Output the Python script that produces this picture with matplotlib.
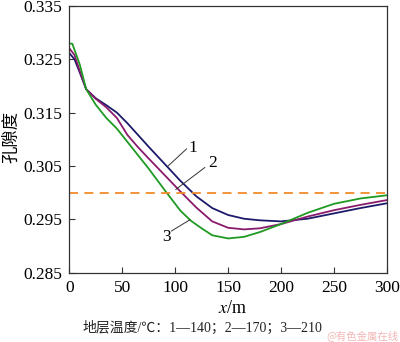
import matplotlib.pyplot as plt

# --- Data ---
x1 = [0, 5, 10, 16, 25, 35, 45, 55, 65, 75, 90, 105, 120, 135, 150, 165, 180, 200, 225, 250, 275, 300]
phi1 = [0.3262, 0.3250, 0.3225, 0.3194, 0.3177, 0.3164, 0.3150, 0.3130, 0.3108, 0.3086, 0.3054,
        0.3022, 0.2993, 0.2971, 0.2958, 0.2951, 0.2948, 0.2946, 0.2951, 0.2961, 0.2971, 0.2980]

x2 = [0, 5, 10, 16, 25, 35, 45, 55, 65, 75, 90, 105, 120, 135, 150, 165, 180, 200, 225, 250, 275, 300]
phi2 = [0.3271, 0.3258, 0.3228, 0.3194, 0.3176, 0.3160, 0.3140, 0.3108, 0.3085, 0.3064, 0.3033,
        0.3002, 0.2972, 0.2946, 0.2934, 0.2931, 0.2933, 0.2941, 0.2955, 0.2967, 0.2977, 0.2986]

x3 = [0, 3, 10, 16, 25, 35, 45, 55, 65, 75, 90, 105, 115, 125, 135, 150, 165, 180, 200, 225, 250, 275, 300]
phi3 = [0.3280, 0.3279, 0.3240, 0.3194, 0.3165, 0.3140, 0.3120, 0.3095, 0.3070, 0.3045, 0.3005,
        0.2966, 0.2947, 0.2933, 0.2920, 0.2914, 0.2917, 0.2926, 0.2941, 0.2962, 0.2979, 0.2989, 0.2995]

ref_phi = 0.300
xticks = [0, 50, 100, 150, 200, 250, 300]
yticks = [0.285, 0.295, 0.305, 0.315, 0.325, 0.335]

serif = ['Liberation Serif', 'Noto Sans CJK SC']
cjk = ['Noto Sans CJK SC', 'DejaVu Sans']

fig = plt.figure(figsize=(4.0, 3.42), dpi=100)
ax = fig.add_axes([0.173, 0.203, 0.7945, 0.7795])

ax.plot(x1, phi1, color='#1c1a6a', lw=1.3)
ax.plot(x2, phi2, color='#8a1a6c', lw=1.3)
ax.plot(x3, phi3, color='#1f9a22', lw=1.3)
ax.axhline(ref_phi, color='#f08a2a', lw=1.3, ls=(0, (5, 3.5)))

# curve labels with leader lines
ax.plot([93.4, 110.8], [0.3050, 0.3082], color='#333333', lw=0.7)
ax.text(116.5, 0.3084, '1', family=serif, fontsize=12.5, ha='center', va='center')
ax.plot([100.7, 128], [0.3006, 0.3047], color='#333333', lw=0.7)
ax.text(135.6, 0.3055, '2', family=serif, fontsize=12.5, ha='center', va='center')
ax.plot([113.9, 96.6], [0.2949, 0.2928], color='#333333', lw=0.7)
ax.text(91.9, 0.2917, '3', family=serif, fontsize=12.5, ha='center', va='center')

ax.set_xlim(0, 300)
ax.set_ylim(0.285, 0.335)
ax.set_xticks(xticks)
ax.set_yticks(yticks)
ax.set_xticklabels([str(t) for t in xticks], family=serif, fontsize=12.5)
ax.set_yticklabels(['%.3f' % t for t in yticks], family=serif, fontsize=12.5)
ax.tick_params(direction='in', length=4, width=0.8, color='#333333', pad=5)
for s in ax.spines.values():
    s.set_color('#333333')
    s.set_linewidth(0.9)

fig.text(0.028, 0.6, '孔隙度', family=cjk, fontsize=12.5, rotation=90,
         ha='center', va='center')
fig.text(0.5825, 0.099, r'$x$/m', family=serif, fontsize=13, ha='center', va='center',
         math_fontfamily='stix')
fig.text(0.505, 0.041, '地层温度/℃：1—140；2—170；3—210', family=serif, fontsize=10,
         ha='center', va='center', color='#222222')
fig.text(0.905, 0.018, '@有色金属在线', family=cjk, fontsize=7.5, ha='center', va='center',
         color='#f2b6b6')

fig.savefig('out.png', dpi=100)
